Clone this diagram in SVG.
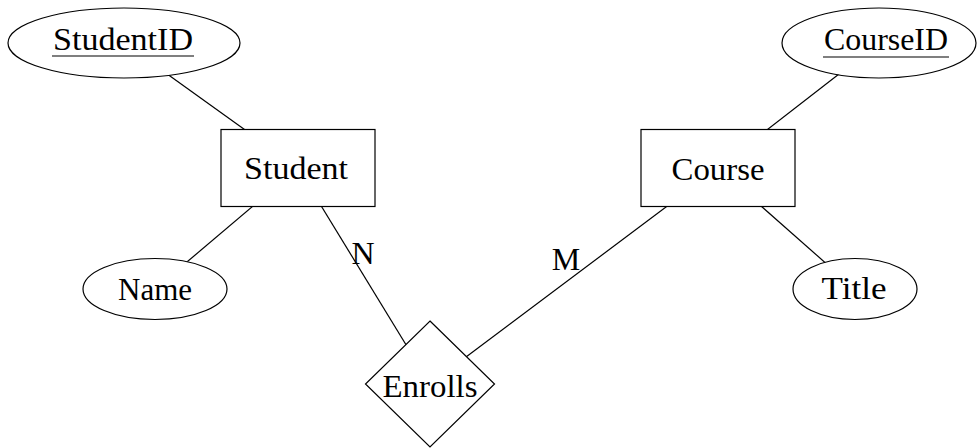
<svg xmlns="http://www.w3.org/2000/svg" width="979" height="448" viewBox="0 0 979 448">
<style>
.shape{fill:#fff;stroke:#000;stroke-width:1.2}
.conn line{stroke:#000;stroke-width:1.2}
text{font-family:"Liberation Serif","Times New Roman",serif;font-size:32px;fill:#000;text-anchor:middle}
.ul{stroke:#000;stroke-width:1.2}
</style>
<rect width="979" height="448" fill="#fff"/>
<g id="connectors" class="conn">
<line x1="124" y1="43" x2="298" y2="168"/>
<line x1="298" y1="168" x2="155" y2="289"/>
<line x1="298" y1="168" x2="430" y2="384"/>
<line x1="718" y1="168" x2="430" y2="384"/>
<line x1="718" y1="168" x2="879" y2="43"/>
<line x1="718" y1="168" x2="855" y2="289"/>
</g>
<g id="StudentID">
<ellipse class="shape" cx="124" cy="43" rx="116" ry="35"/>
<text x="123" y="50" textLength="140" lengthAdjust="spacingAndGlyphs">StudentID</text>
<line class="ul" x1="52" y1="56" x2="194" y2="56"/>
</g>
<g id="Student">
<rect class="shape" x="221" y="129.5" width="154" height="77"/>
<text x="296" y="179" textLength="104" lengthAdjust="spacingAndGlyphs">Student</text>
</g>
<g id="Name">
<ellipse class="shape" cx="155" cy="289" rx="72" ry="30.5"/>
<text x="155" y="300" textLength="74" lengthAdjust="spacingAndGlyphs">Name</text>
</g>
<g id="Enrolls">
<polygon class="shape" points="430,321 494.5,384 430,447 365.5,384"/>
<text x="430" y="397" textLength="95" lengthAdjust="spacingAndGlyphs">Enrolls</text>
</g>
<g id="Course">
<rect class="shape" x="641" y="129.5" width="154" height="77"/>
<text x="718" y="180" textLength="93" lengthAdjust="spacingAndGlyphs">Course</text>
</g>
<g id="CourseID">
<ellipse class="shape" cx="879" cy="43" rx="97" ry="35"/>
<text x="886" y="50" textLength="124" lengthAdjust="spacingAndGlyphs">CourseID</text>
<line class="ul" x1="823" y1="57" x2="949" y2="57"/>
</g>
<g id="Title">
<ellipse class="shape" cx="855" cy="289" rx="62" ry="30.5"/>
<text x="854" y="299" textLength="65" lengthAdjust="spacingAndGlyphs">Title</text>
</g>
<g id="labels">
<text x="363" y="264">N</text>
<text x="566" y="270">M</text>
</g>
</svg>
